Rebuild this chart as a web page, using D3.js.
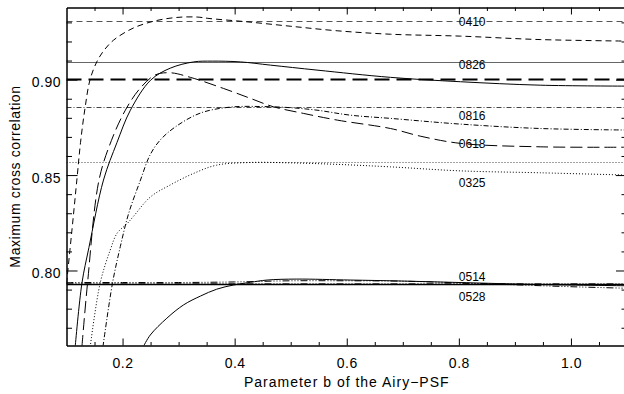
<!DOCTYPE html>
<html>
<head>
<meta charset="utf-8">
<script src="https://cdn.jsdelivr.net/npm/d3@7"></script>
<style>
  html, body { margin: 0; padding: 0; background: #fff; }
  svg { display: block; font-family: "Liberation Sans", Arial, Helvetica, sans-serif; }
</style>
</head>
<body>
<svg id="chart" width="624" height="394"></svg>
<script>
// ---- data: maximum cross correlation versus Airy-PSF parameter b ----
const seriesNames = ["0410", "0826", "0618", "0816", "0325", "0514", "0528"];

const b0410 = [0.100, 0.110, 0.119, 0.125, 0.133, 0.142, 0.154, 0.166, 0.184, 0.219, 0.258, 0.297, 0.333, 0.356, 0.422, 0.499, 0.583, 0.678, 0.803, 0.945, 1.100];
const v0410 = [0.793, 0.822, 0.849, 0.867, 0.885, 0.900, 0.9093, 0.915, 0.9207, 0.927, 0.9308, 0.9326, 0.9328, 0.932, 0.9303, 0.928, 0.9256, 0.9238, 0.9228, 0.921, 0.9202];

const b0826 = [0.1155, 0.1275, 0.140, 0.166, 0.190, 0.214, 0.250, 0.285, 0.327, 0.360, 0.410, 0.464, 0.547, 0.678, 0.803, 0.945, 1.100];
const v0826 = [0.760, 0.7933, 0.812, 0.8474, 0.867, 0.884, 0.8997, 0.906, 0.9093, 0.9097, 0.9093, 0.9076, 0.905, 0.9012, 0.8989, 0.8971, 0.8966];

const b0618 = [0.1275, 0.1375, 0.158, 0.180, 0.205, 0.230, 0.258, 0.285, 0.321, 0.380, 0.428, 0.469, 0.523, 0.583, 0.678, 0.731, 0.803, 0.945, 1.100];
const v0618 = [0.760, 0.7933, 0.8474, 0.868, 0.884, 0.895, 0.9024, 0.9036, 0.9012, 0.8954, 0.8902, 0.8858, 0.8823, 0.8788, 0.8744, 0.8704, 0.8666, 0.8648, 0.8646];

const b0816 = [0.165, 0.182, 0.196, 0.211, 0.232, 0.249, 0.267, 0.294, 0.339, 0.392, 0.450, 0.500, 0.547, 0.606, 0.678, 0.803, 0.945, 1.100];
const v0816 = [0.760, 0.7933, 0.8125, 0.830, 0.8474, 0.8605, 0.8683, 0.8752, 0.8825, 0.8856, 0.8859, 0.8853, 0.884, 0.8814, 0.8797, 0.8767, 0.8744, 0.8736];

const b0325 = [0.1423, 0.160, 0.178, 0.1905, 0.208, 0.219, 0.250, 0.285, 0.327, 0.368, 0.428, 0.499, 0.583, 0.678, 0.803, 0.945, 1.100];
const v0325 = [0.760, 0.7933, 0.8107, 0.8196, 0.8245, 0.8282, 0.8386, 0.8448, 0.8509, 0.8552, 0.8566, 0.8564, 0.8556, 0.8543, 0.8522, 0.8512, 0.850];

const b0514 = [0.100, 0.200, 0.300, 0.400, 0.500, 0.600, 0.700, 0.800, 0.900, 1.000, 1.100];
const v0514 = [0.7937, 0.7937, 0.7937, 0.7940, 0.7946, 0.7946, 0.7944, 0.7935, 0.7925, 0.7915, 0.7907];

const b0528 = [0.2369, 0.2495, 0.279, 0.309, 0.339, 0.368, 0.398, 0.428, 0.458, 0.511, 0.606, 0.695, 0.814, 0.933, 1.100];
const v0528 = [0.760, 0.7662, 0.775, 0.782, 0.7866, 0.7902, 0.7924, 0.7938, 0.795, 0.7955, 0.795, 0.7945, 0.7936, 0.7927, 0.792];

// reference level of each series (horizontal lines)
const refLevels = [0.9309, 0.9093, 0.9001, 0.8858, 0.8570, 0.7937, 0.7927];

// series name labels: placed at b = 0.8, baseline at these levels
const labelB = 0.8;
const labelLevels = [0.9282, 0.9055, 0.8643, 0.8788, 0.8436, 0.7945, 0.7841];

// axis ticks
const xMajorTicks = [0.2, 0.4, 0.6, 0.8, 1.0];
const xMinorTicks = [0.15, 0.25, 0.3, 0.35, 0.45, 0.5, 0.55, 0.65, 0.7, 0.75, 0.85, 0.9, 0.95, 1.05];
const yMajorTicks = [0.80, 0.85, 0.90];
const yMinorTicks = [0.77, 0.78, 0.79, 0.81, 0.82, 0.83, 0.84, 0.86, 0.87, 0.88, 0.89, 0.91, 0.92, 0.93];

const xLabel = "Parameter b of the Airy\u2212PSF";
const yLabel = "Maximum cross correlation";

// ---- layout ----
const L = 66.5, R = 627, T = 7.5, B = 345.5;
const svg = d3.select("#chart");

const x = d3.scaleLinear().domain([0.1, 1.1]).range([L, R]);
const y = d3.scaleLinear().domain([0.7607, 0.9378]).range([B, T]);

const bs = [b0410, b0826, b0618, b0816, b0325, b0514, b0528];
const vs = [v0410, v0826, v0618, v0816, v0325, v0514, v0528];

// line styles per series
const curveDash = ["6,4", null, "12,5", "5,2,1,2", "1,2", "7,2,1,2,1,2,1,2", null];
const refDash   = ["6,4", null, "15,7", "5,2,1,2", "1,2", "7,2,1,2,1,2,1,2", null];
const refColor  = ["#555", "#666", "#000", "#444", "#444", "#555", "#000"];
const refWidth  = [1, 1, 2, 1, 1, 1, 1.5];

svg.append("defs").append("clipPath").attr("id", "plot-clip")
  .append("rect").attr("x", L).attr("y", T).attr("width", R - L).attr("height", B - T);

const plot = svg.append("g").attr("clip-path", "url(#plot-clip)");

// horizontal reference levels
plot.selectAll("line.ref")
  .data(seriesNames.map((n, i) => ({ n, i, v: refLevels[i] })))
  .join("line")
  .attr("class", "ref")
  .attr("x1", x(0.1)).attr("x2", x(1.1))
  .attr("y1", d => Math.round(y(d.v)) + 0.5)
  .attr("y2", d => Math.round(y(d.v)) + 0.5)
  .attr("stroke", d => refColor[d.i])
  .attr("stroke-width", d => refWidth[d.i])
  .attr("stroke-dasharray", d => refDash[d.i]);

// correlation curves
const line = d3.line()
  .x(d => x(d[0]))
  .y(d => y(d[1]))
  .curve(d3.curveCatmullRom.alpha(0.5));

plot.selectAll("path.curve")
  .data(seriesNames.map((n, i) => ({ n, i, pts: bs[i].map((b, k) => [b, vs[i][k]]) })))
  .join("path")
  .attr("class", "curve")
  .attr("d", d => line(d.pts))
  .attr("fill", "none")
  .attr("stroke", "#000")
  .attr("stroke-width", 1)
  .attr("stroke-dasharray", d => curveDash[d.i]);

// series labels
svg.append("g").selectAll("text")
  .data(seriesNames.map((n, i) => ({ n, v: labelLevels[i] })))
  .join("text")
  .attr("x", x(labelB))
  .attr("y", d => y(d.v))
  .attr("font-size", 12)
  .attr("fill", "#000")
  .text(d => d.n);

// ---- axes ----
function styleAxis(g) {
  g.selectAll("line").attr("stroke", "#000");
  g.selectAll("path.domain").attr("stroke", "#000");
}

// bottom
svg.append("g").attr("transform", `translate(0,${B})`)
  .call(d3.axisBottom(x).tickValues(xMajorTicks).tickFormat(d3.format(".1f"))
    .tickSize(-7).tickSizeOuter(0).tickPadding(13))
  .call(styleAxis)
  .call(g => g.selectAll("text").attr("font-size", 14).attr("letter-spacing", "0.5px")
    .attr("fill", "#000").style("font-family", "inherit"));
svg.append("g").attr("transform", `translate(0,${B})`)
  .call(d3.axisBottom(x).tickValues(xMinorTicks).tickFormat("").tickSize(-3.5).tickSizeOuter(0))
  .call(styleAxis);

// top
svg.append("g").attr("transform", `translate(0,${T})`)
  .call(d3.axisTop(x).tickValues(xMajorTicks).tickFormat("").tickSize(-7).tickSizeOuter(0))
  .call(styleAxis);
svg.append("g").attr("transform", `translate(0,${T})`)
  .call(d3.axisTop(x).tickValues(xMinorTicks).tickFormat("").tickSize(-3.5).tickSizeOuter(0))
  .call(styleAxis);

// left
svg.append("g").attr("transform", `translate(${L},0)`)
  .call(d3.axisLeft(y).tickValues(yMajorTicks).tickFormat(d3.format(".2f"))
    .tickSize(-11).tickSizeOuter(0).tickPadding(5.5))
  .call(styleAxis)
  .call(g => g.selectAll("text").attr("font-size", 14).attr("letter-spacing", "0.5px")
    .attr("dy", "0.5em").attr("fill", "#000").style("font-family", "inherit"));
svg.append("g").attr("transform", `translate(${L},0)`)
  .call(d3.axisLeft(y).tickValues(yMinorTicks).tickFormat("").tickSize(-5.5).tickSizeOuter(0))
  .call(styleAxis);

// right
svg.append("g").attr("transform", `translate(${R},0)`)
  .call(d3.axisRight(y).tickValues(yMajorTicks).tickFormat("").tickSize(-11).tickSizeOuter(0))
  .call(styleAxis);
svg.append("g").attr("transform", `translate(${R},0)`)
  .call(d3.axisRight(y).tickValues(yMinorTicks).tickFormat("").tickSize(-5.5).tickSizeOuter(0))
  .call(styleAxis);

// axis titles
svg.append("text")
  .attr("x", (L + R) / 2).attr("y", 387)
  .attr("text-anchor", "middle")
  .attr("font-size", 14).attr("letter-spacing", "1px")
  .attr("fill", "#000")
  .text(xLabel);

svg.append("text")
  .attr("transform", `translate(19.5,${(T + B) / 2}) rotate(-90)`)
  .attr("text-anchor", "middle")
  .attr("font-size", 14).attr("letter-spacing", "0.6px")
  .attr("fill", "#000")
  .text(yLabel);
</script>
</body>
</html>
